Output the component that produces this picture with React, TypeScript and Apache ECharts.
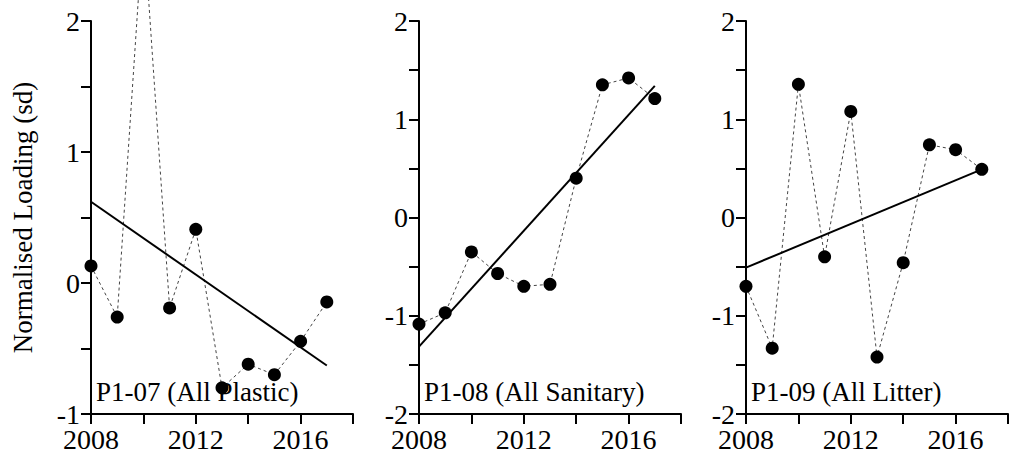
import React, { useEffect, useRef } from "react";
import * as echarts from "echarts";

const years = [2008, 2009, 2010, 2011, 2012, 2013, 2014, 2015, 2016, 2017];
const plastic = [0.13, -0.26, 2.75, -0.19, 0.41, -0.8, -0.62, -0.7, -0.445, -0.145];
const sanitary = [-1.085, -0.97, -0.35, -0.57, -0.7, -0.68, 0.4, 1.35, 1.42, 1.21];
const litter = [-0.7, -1.33, 1.356, -0.4, 1.08, -1.42, -0.46, 0.74, 0.69, 0.49];
const trendYears = [2008, 2017];
const plasticTrend = [0.62, -0.63];
const sanitaryTrend = [-1.315, 1.34];
const litterTrend = [-0.51, 0.49];
const panelLabels = ["P1-07 (All Plastic)", "P1-08 (All Sanitary)", "P1-09 (All Litter)"];
const yMins = [-1, -2, -2];
const yMax = 2;
const xMin = 2008;
const xMax = 2018;
const yTitle = "Normalised Loading (sd)";

const FONT = "Liberation Serif";

export default function App() {
  const ref = useRef<HTMLDivElement>(null);
  useEffect(() => {
    if (!ref.current) return;
    const chart = echarts.init(ref.current, null, { renderer: "svg" });
    const lefts = [91, 419, 746];
    const gridTop = 21;
    const gridH = 393;
    const gridW = 262;
    const series: any[] = [];
    const data = [plastic, sanitary, litter];
    const trends = [plasticTrend, sanitaryTrend, litterTrend];
    data.forEach((d, i) => {
      series.push({
        type: "line",
        xAxisIndex: i,
        yAxisIndex: i,
        clip: false,
        data: years.map((y, k) => [y, d[k]]),
        symbol: "none",
        lineStyle: { color: "#444", width: 1, type: [3, 3] },
        z: 2,
      });
      series.push({
        type: "line",
        xAxisIndex: i,
        yAxisIndex: i,
        data: trendYears.map((y, k) => [y, trends[i][k]]),
        symbol: "none",
        lineStyle: { color: "#000", width: 2 },
        z: 3,
      });
      series.push({
        type: "scatter",
        xAxisIndex: i,
        yAxisIndex: i,
        clip: false,
        data: years.map((y, k) => [y, d[k]]),
        symbol: "circle",
        symbolSize: 13,
        itemStyle: { color: "#000", opacity: 1 },
        z: 4,
      });
    });
    const axisLineStyle = { color: "#000", width: 2 };
    chart.setOption({
      animation: false,
      grid: lefts.map((l) => ({
        left: l,
        top: gridTop,
        width: gridW,
        height: gridH,
        containLabel: false,
        outerBoundsMode: "none",
      })),
      xAxis: lefts.map((_, i) => ({
        type: "value",
        gridIndex: i,
        min: xMin,
        max: xMax,
        interval: 2,
        splitLine: { show: false },
        axisLine: { show: true, onZero: false, lineStyle: axisLineStyle },
        axisTick: { show: true, length: 10, lineStyle: axisLineStyle },
        axisLabel: {
          margin: 11,
          fontSize: 28,
          fontFamily: FONT,
          color: "#000",
          showMinLabel: true,
          showMaxLabel: true,
          formatter: (v: number) => (v % 4 === 0 ? String(v) : ""),
        },
      })),
      yAxis: lefts.map((_, i) => ({
        type: "value",
        gridIndex: i,
        min: yMins[i],
        max: yMax,
        interval: 0.5,
        splitLine: { show: false },
        axisLine: { show: true, onZero: false, lineStyle: axisLineStyle },
        axisTick: { show: true, length: 10, lineStyle: axisLineStyle },
        axisLabel: {
          margin: 11,
          fontSize: 28,
          lineHeight: 18,
          fontFamily: FONT,
          color: "#000",
          showMinLabel: true,
          showMaxLabel: true,
          formatter: (v: number) => (Number.isInteger(v) ? String(v) : ""),
        },
        name: i === 0 ? yTitle : "",
        nameLocation: "middle",
        nameGap: 55,
        nameTextStyle: { fontSize: 27, fontFamily: FONT, color: "#000" },
      })),
      series,
      graphic: lefts.map((l, i) => ({
        type: "text",
        x: l + 5,
        y: 392,
        z: 10,
        style: {
          text: panelLabels[i],
          fontSize: 27,
          fontFamily: FONT,
          fill: "#000",
          verticalAlign: "middle",
          align: "left",
        },
      })),
    });
    return () => chart.dispose();
  }, []);
  return (
    <div
      ref={ref}
      style={{ position: "fixed", left: 0, top: 0, width: 1009, height: 455, background: "#fff" }}
    />
  );
}
